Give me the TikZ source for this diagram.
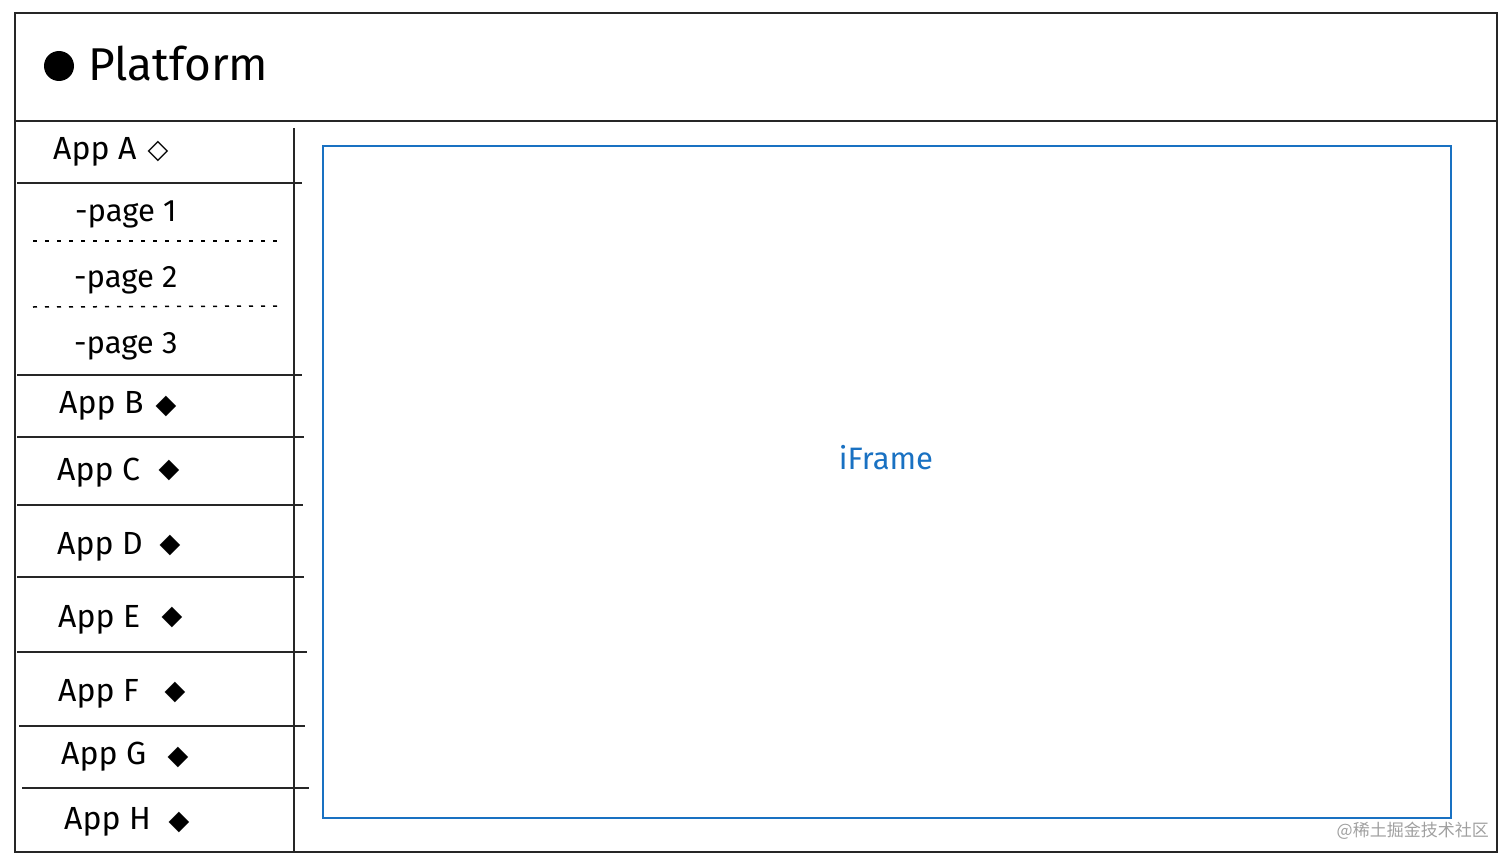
\documentclass[tikz,border=0pt]{standalone}
\usepackage{fontspec}
\setmainfont{Fira Sans}
\newfontfamily\symfont{DejaVu Sans}
\newfontfamily\cjkfont{Noto Sans CJK SC}
\usetikzlibrary{positioning}
\definecolor{sketchblue}{HTML}{1971C2}
\definecolor{markgray}{HTML}{A0A0A0}

\begin{document}
\begin{tikzpicture}[
    x=1pt, y=-1pt, node distance=66pt,
    frame/.style={line width=2pt, black!85},
    divider/.style={line width=2.2pt, black!85},
    dotline/.style={line width=1.5pt, dash pattern=on 4pt off 8pt},
    applabel/.style={anchor=west, inner sep=0pt, font=\fontsize{32}{38}\selectfont},
    pagelabel/.style={anchor=west, inner sep=0pt, font=\fontsize{31}{36}\selectfont},
    gem/.style={inner sep=0pt, font=\symfont\fontsize{27}{32}\selectfont}
]
    \useasboundingbox (0,0) rectangle (1512,864);

    % outer window and header
    \draw[frame] (15,13) rectangle (1497,852);
    \draw[frame] (15,121) -- (1497,121);
    \fill (59,66) circle (15);
    \node[anchor=west, inner sep=0pt, font=\fontsize{46}{54}\selectfont] (title) at (88,64) {Platform};

    % side menu
    \draw[frame] (294,128) -- (294,852);
    \node[applabel] (appA) at (53,152) {App A};
    \node[gem] (gemA) at (158,151) {◇};
    \draw[divider] (17,183) -- (302,183);

    \node[pagelabel] (page1) at (75,214) {-page 1};
    \node[pagelabel, below of=page1] (page2) {-page 2};
    \node[pagelabel, below of=page2] (page3) {-page 3};
    \draw[dotline] (33,241) -- (283,241);
    \draw[dotline] (33,307) -- (283,306);
    \draw[divider] (17,375) -- (302,375);

    \node[applabel] (appB) at (59,406) {App B};
    \node[gem] (gemB) at (166,406) {◆};
    \draw[divider] (17,437) -- (304,437);

    \node[applabel] (appC) at (57,473) {App C};
    \node[gem] (gemC) at (169,470) {◆};
    \draw[divider] (17,505) -- (303,505);

    \node[applabel] (appD) at (57,547) {App D};
    \node[gem] (gemD) at (170,545) {◆};
    \draw[divider] (17,577) -- (304,577);

    \node[applabel] (appE) at (58,620) {App E};
    \node[gem] (gemE) at (172,617) {◆};
    \draw[divider] (17,652) -- (307,652);

    \node[applabel] (appF) at (58,694) {App F};
    \node[gem] (gemF) at (175,692) {◆};
    \draw[divider] (19,726) -- (305,726);

    \node[applabel] (appG) at (61,757) {App G};
    \node[gem] (gemG) at (178,757) {◆};
    \draw[divider] (22,788) -- (309,788);

    \node[applabel] (appH) at (64,822) {App H};
    \node[gem] (gemH) at (179,822) {◆};

    % content area
    \draw[sketchblue, line width=1.6pt] (323,146) rectangle (1451,818);
    \node[text=sketchblue, font=\fontsize{31}{36}\selectfont] (frame) at (886,458) {iFrame};

    \node[anchor=east, inner sep=0pt, text=markgray, font=\cjkfont\fontsize{17}{20}\selectfont] (mark) at (1489,831) {@稀土掘金技术社区};
\end{tikzpicture}
\end{document}
